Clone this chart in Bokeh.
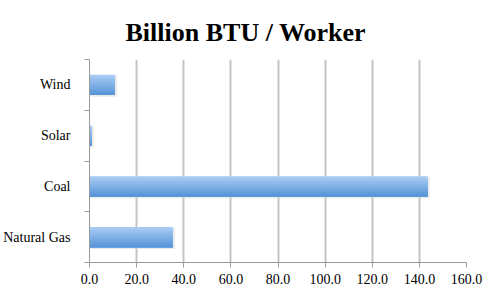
from bokeh.plotting import figure
from bokeh.models import LinearAxis, Range1d, FixedTicker, NumeralTickFormatter, Grid
from bokeh.embed import file_html
from bokeh.resources import INLINE

categories = ["Natural Gas", "Coal", "Solar", "Wind"]
values = [35.3, 143.5, 0.9, 10.8]
x_ticks = [0, 20, 40, 60, 80, 100, 120, 140, 160]
title_text = "Billion BTU / Worker"

ncat = len(categories)
ypos = [i + 0.5 for i in range(ncat)]

p = figure(width=495, height=295, output_backend="svg", toolbar_location=None,
           y_range=Range1d(0, ncat), x_range=Range1d(0, 160),
           y_axis_location=None, x_axis_location=None,
           min_border_left=87, min_border_right=29, min_border_top=59, min_border_bottom=33)
p.outline_line_color = None
p.background_fill_color = "white"
p.border_fill_color = "white"
p.grid.visible = False

p.title.text = title_text
p.title.text_font = "Liberation Serif"
p.title.text_font_size = "26px"
p.title.text_font_style = "bold"
p.title.text_color = "black"
p.title.align = "left"
p.title.offset = 36
p.title.standoff = 26

g = Grid(dimension=0, ticker=FixedTicker(ticks=x_ticks), grid_line_color="#c4c4c4", grid_line_width=2)
p.add_layout(g)

# soft shadow
bar_h = 0.4
p.hbar(y=[y - 0.02 for y in ypos], right=[v + 0.9 for v in values], left=0,
       height=bar_h + 0.03, fill_color="#d8d8d8", fill_alpha=0.5, line_color=None)

# gradient bars via overlapping strips
n = 14
top = (0xa8, 0xcb, 0xf4)
bot = (0x58, 0x95, 0xd8)
for i in range(n):
    t = i / (n - 1)
    c = tuple(int(round(top[k] + (bot[k] - top[k]) * t)) for k in range(3))
    color = "#%02x%02x%02x" % c
    strip_top = bar_h / 2 - i * bar_h / n
    h = strip_top + bar_h / 2
    off = strip_top - h / 2
    p.hbar(y=[y + off for y in ypos], right=values, left=0,
           height=h, fill_color=color, line_color=None)

# x axis
xa = LinearAxis(ticker=FixedTicker(ticks=x_ticks), formatter=NumeralTickFormatter(format="0.0"))
xa.axis_line_color = "#9a9a9a"
xa.major_tick_line_color = "#9a9a9a"
xa.major_tick_out = 5
xa.major_tick_in = 0
xa.minor_tick_line_color = None
xa.major_label_text_font = "Liberation Serif"
xa.major_label_text_font_size = "14px"
xa.major_label_text_color = "black"
xa.major_label_standoff = 6
p.add_layout(xa, "below")

# y tick axis (category boundaries)
bounds = list(range(ncat + 1))
ta = LinearAxis(ticker=FixedTicker(ticks=bounds),
                major_label_overrides={b: "" for b in bounds})
ta.axis_line_color = "#9a9a9a"
ta.major_tick_line_color = "#9a9a9a"
ta.major_tick_out = 5
ta.major_tick_in = 0
ta.minor_tick_line_color = None
ta.major_label_standoff = 0
p.add_layout(ta, "left")

ca = LinearAxis(ticker=FixedTicker(ticks=ypos),
                major_label_overrides={y: c for y, c in zip(ypos, categories)})
ca.axis_line_color = None
ca.major_tick_line_color = None
ca.minor_tick_line_color = None
ca.major_label_text_font = "Liberation Serif"
ca.major_label_text_font_size = "14px"
ca.major_label_text_color = "black"
ca.major_label_standoff = 8
p.add_layout(ca, "left")

open("out.html", "w").write(file_html(p, INLINE))
